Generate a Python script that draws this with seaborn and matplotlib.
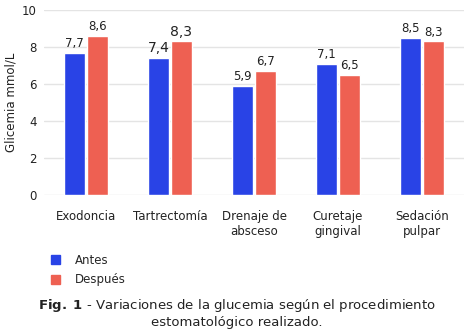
import matplotlib
matplotlib.use("Agg")
import matplotlib.pyplot as plt
import seaborn as sns
import pandas as pd
from matplotlib.patches import Patch

categories = ["Exodoncia", "Tartrectomía", "Drenaje de\nabsceso", "Curetaje\ngingival", "Sedación\npulpar"]
antes = [7.7, 7.4, 5.9, 7.1, 8.5]
despues = [8.6, 8.3, 6.7, 6.5, 8.3]
series = ["Antes", "Después"]
yticks = [0, 2, 4, 6, 8, 10]

blue = "#2943E6"
red = "#EE6052"

df = pd.DataFrame({
    "cat": categories * 2,
    "val": antes + despues,
    "serie": [series[0]] * len(categories) + [series[1]] * len(categories),
})

sns.set_theme(style="white")
plt.rcParams["font.family"] = ["DejaVu Sans"]

fig = plt.figure(figsize=(4.73, 3.33), dpi=100)
ax = fig.add_axes([0.093, 0.414, 0.888, 0.556])

sns.barplot(data=df, x="cat", y="val", hue="serie", palette=[blue, red],
            width=0.54, gap=0.08, ax=ax, legend=False, saturation=1)

ax.set_ylim(0, 10)
ax.set_yticks(yticks)
ax.set_yticklabels([str(t) for t in yticks], fontsize=8.5, color="#222222")
ax.tick_params(axis="x", labelsize=8.5, colors="#222222", length=0, pad=11)
ax.tick_params(axis="y", length=0, pad=5)
ax.grid(axis="y", color="#E4E4E4", linewidth=1)
ax.set_axisbelow(True)
for s in ax.spines.values():
    s.set_visible(False)
ax.set_xlabel("")
ax.set_ylabel("Glicemia mmol/L", fontsize=8.5, color="#222222")
ax.yaxis.set_label_coords(-0.062, 0.5)

for ci, cont in enumerate(ax.containers):
    vals = antes if ci == 0 else despues
    for i, (bar, v) in enumerate(zip(cont, vals)):
        fs = 10 if i == 1 else 8.5
        ax.annotate(f"{v:.1f}".replace(".", ","),
                    (bar.get_x() + bar.get_width() / 2, bar.get_height()),
                    xytext=(0, 2), textcoords="offset points",
                    ha="center", va="bottom", fontsize=fs, color="#222222")

handles = [Patch(color=blue, label=series[0]), Patch(color=red, label=series[1])]
fig.legend(handles=handles, loc="upper left", bbox_to_anchor=(0.085, 0.27),
           frameon=False, fontsize=8.5, handlelength=0.8, handleheight=0.8,
           handletextpad=1.2, labelspacing=0.55)

fig.text(0.5, 0.083, r"$\bf{Fig.\ 1}$ - Variaciones de la glucemia según el procedimiento",
         ha="center", va="center", fontsize=9.5, color="#222222")
fig.text(0.5, 0.031, "estomatológico realizado.", ha="center", va="center",
         fontsize=9.5, color="#222222")

fig.savefig("out.png", dpi=100)
